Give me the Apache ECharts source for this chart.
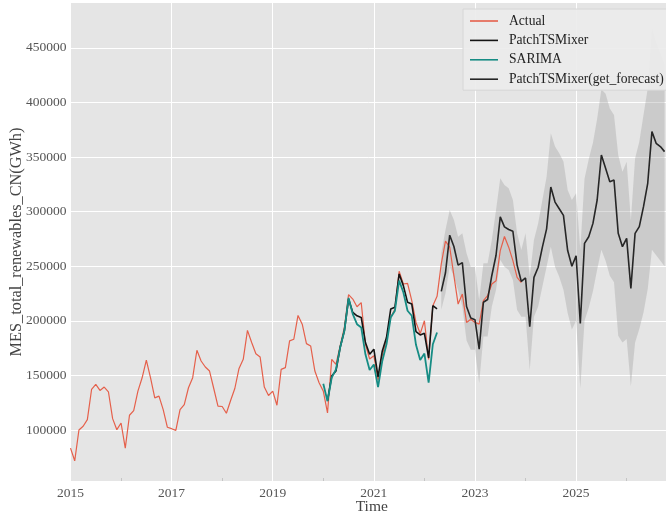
<!DOCTYPE html>
<html>
<head>
<meta charset="utf-8">
<script src="https://cdn.jsdelivr.net/npm/echarts@6/dist/echarts.min.js"></script>
<style>
  html, body { margin: 0; padding: 0; background: #ffffff; }
  #chart { width: 666px; height: 515px; }
</style>
</head>
<body>
<div id="chart"></div>
<script>
// Monthly renewable generation, China (GWh)
const baseYear = 2015;

// Observed values, monthly from 2015-01
const actualStart = '2015-01';
const actual = [
  83400, 71800, 100000, 103400, 109500, 137100, 141700, 136200, 139300, 135000, 110400, 100300,
  106400, 83400, 113500, 117800, 135600, 147800, 164000, 147800, 129400, 131000, 118700, 102500,
  101200, 99700, 118700, 123300, 138700, 147900, 173000, 163200, 157700, 154000, 138000, 121800,
  121500, 115300, 127000, 138000, 156400, 164700, 191200, 180100, 169900, 166900, 139300, 131600,
  135600, 122700, 155500, 157100, 181600, 183100, 204900, 196900, 179100, 177000, 154000, 143300,
  135600, 115700, 164700, 160100, 177000, 193900, 223900, 219900, 212900, 216600, 178500, 165000,
  168000, 145600, 167800, 183100, 203000, 210700, 245400, 233700, 234300, 218400, 198500, 188300,
  200000, 164700, 213800, 222400, 252100, 273000, 267500, 241400, 215300, 224500, 198500, 201500,
  198500, 197000, 218400, 223000, 233700, 236700, 264300, 277200, 267400, 255100, 239800, 235000
];

// PatchTSMixer test-period predictions, monthly from 2020-02
const patchStart = '2020-02';
const patchTSMixer = [
  127000, 149400, 154000, 175500, 190800, 219900, 207700, 204600, 203100, 180100, 169300,
  174000, 148700, 172400, 184700, 210700, 212300, 242900, 232200, 216900, 215300, 190000, 187000,
  188500, 166000, 213800, 211000
];

// SARIMA predictions, monthly from 2020-01
const sarimaStart = '2020-01';
const sarima = [
  142300, 126400, 147900, 155500, 175500, 190800, 220900, 206100, 196900, 193900, 169300, 155000,
  160000, 139300, 163200, 178500, 203000, 209200, 236800, 226100, 209200, 204600, 178000, 164000,
  170000, 143300, 178500, 189300
];

// PatchTSMixer forecast with interval bounds, monthly from 2022-05
const forecastStart = '2022-05';
const forecast = [
  227000, 244000, 278400, 268000, 251000, 253300, 213100, 202500,
  201000, 174000, 217000, 219500, 241500, 260000, 295200, 286000, 283600, 282000, 251000, 236000,
  239200, 194500, 239800, 249000, 267400, 284200, 322500, 308700, 302600, 296500, 264300, 250000,
  259500, 197500, 270900, 277000, 289200, 310600, 351800, 339600, 327400, 328900, 280100, 267900,
  275500, 229700, 280100, 286200, 304500, 325900, 373200, 362500, 359500, 354900
];
const forecastLower = [
  210000, 225300, 250000, 240000, 228000, 213100, 182000, 173400,
  173400, 142900, 185600, 185600, 213100, 228400, 255800, 249600, 246600, 237400, 209900, 203800,
  203800, 155000, 203800, 213100, 231400, 249600, 267900, 249600, 240400, 228400, 207100, 192000,
  200000, 138000, 200000, 212000, 227000, 247000, 265000, 255000, 241300, 235200, 186300, 180200,
  183300, 140000, 180200, 192400, 207600, 229000, 265000, 260000, 255000, 250000
];
const forecastUpper = [
  262000, 283100, 301500, 292300, 277000, 280100, 261800, 249600,
  249600, 219100, 252700, 252700, 274000, 301500, 330500, 324400, 321300, 310600, 280100, 264800,
  280100, 240400, 274000, 289300, 310600, 332000, 371700, 359500, 353400, 345800, 319800, 310600,
  316700, 265000, 330000, 348000, 363000, 385000, 412000, 408000, 394500, 388400, 351800, 336500,
  345700, 292000, 348700, 364000, 388400, 412800, 468000, 455000, 445000, 435000
];

// Axis settings
const xTickYears = [2015, 2017, 2019, 2021, 2023, 2025];
const yTicks = [100000, 150000, 200000, 250000, 300000, 350000, 400000, 450000];
const yMin = 53300, yMax = 491000;
const xEnd = 143 / 12; // last month shown: 2026-12

// Convert "YYYY-MM" plus a month offset into years since baseYear
function monthX(start, i) {
  const [y, m] = start.split('-').map(Number);
  return (y - baseYear) + (m - 1 + i) / 12;
}
function toPairs(start, values) {
  return values.map((v, i) => [monthX(start, i), v]);
}

const serif = 'Liberation Serif, "Times New Roman", DejaVu Serif, serif';

const chart = echarts.init(document.getElementById('chart'), null, { renderer: 'canvas' });

// Interval rows: [x, lower, upper]
const bandRows = forecast.map((_, i) => [monthX(forecastStart, i), forecastLower[i], forecastUpper[i]]);

// Draws the whole interval as one filled polygon (upper edge, then lower edge back)
function renderBand(params, api) {
  if (params.dataIndex !== 0) return null;
  const pts = [];
  for (let i = 0; i < bandRows.length; i++) pts.push(api.coord([bandRows[i][0], bandRows[i][2]]));
  for (let i = bandRows.length - 1; i >= 0; i--) pts.push(api.coord([bandRows[i][0], bandRows[i][1]]));
  return {
    type: 'polygon',
    silent: true,
    shape: { points: pts },
    style: { fill: 'rgba(150,150,150,0.32)' }
  };
}

chart.setOption({
  animation: false,
  backgroundColor: '#ffffff',
  grid: {
    left: 70.5, right: -7, top: 3, bottom: 34,
    outerBoundsMode: 'none',
    containLabel: false,
    show: true, backgroundColor: '#E5E5E5', borderWidth: 0
  },
  legend: {
    data: ['Actual', 'PatchTSMixer', 'SARIMA', 'PatchTSMixer(get_forecast)'],
    orient: 'vertical',
    left: 463, top: 9,
    icon: 'rect',
    itemWidth: 28, itemHeight: 1.6,
    itemGap: 3.4,
    padding: [4, 12, 3, 7],
    backgroundColor: 'rgba(236,236,236,0.92)',
    borderColor: '#d6d6d6', borderWidth: 1,
    textStyle: { fontFamily: serif, fontSize: 13.6, color: '#222', lineHeight: 16, padding: [0, 0, 0, 6] }
  },
  xAxis: {
    type: 'value',
    min: 0, max: xEnd, interval: 2,
    name: 'Time', nameLocation: 'middle', nameGap: 18, nameMoveOverlap: false,
    nameTextStyle: { fontFamily: serif, fontSize: 15.5, color: '#444' },
    axisLine: { show: false },
    axisTick: { show: false, inside: true },
    minorTick: { show: true, splitNumber: 2, length: 3, lineStyle: { color: '#c4c4c4', width: 1 } },
    axisLabel: {
      fontFamily: serif, fontSize: 13.5, color: '#555', margin: 5,
      showMaxLabel: false,
      formatter: v => {
        const yr = Math.round(v) + baseYear;
        return (Math.abs(v - Math.round(v)) < 1e-6 && xTickYears.includes(yr)) ? String(yr) : '';
      }
    },
    splitLine: { show: true, showMaxLine: false, lineStyle: { color: '#ffffff', width: 1 } }
  },
  yAxis: {
    type: 'value',
    min: yMin, max: yMax, splitNumber: 9,
    name: 'MES_total_renewables_CN(GWh)', nameLocation: 'middle', nameGap: 46, nameRotate: 90,
    nameMoveOverlap: false,
    nameTextStyle: { fontFamily: serif, fontSize: 16.3, color: '#444' },
    axisLine: { show: false },
    axisTick: { show: false },
    axisLabel: {
      fontFamily: serif, fontSize: 13.5, color: '#555', margin: 4,
      showMinLabel: false, showMaxLabel: false,
      formatter: v => yTicks.includes(Math.round(v)) ? String(Math.round(v)) : ''
    },
    splitLine: { show: true, showMinLine: false, showMaxLine: false, lineStyle: { color: '#ffffff', width: 1 } }
  },
  series: [
    {
      name: 'interval', type: 'custom', data: bandRows,
      encode: { x: 0, y: [1, 2] },
      renderItem: renderBand, silent: true, clip: true, z: 1
    },
    {
      name: 'Actual', type: 'line', data: toPairs(actualStart, actual),
      symbol: 'none', color: '#e5604b', lineStyle: { width: 1.2 }, z: 3
    },
    {
      name: 'PatchTSMixer', type: 'line', data: toPairs(patchStart, patchTSMixer),
      symbol: 'none', color: '#141414', lineStyle: { width: 1.6 }, z: 4
    },
    {
      name: 'SARIMA', type: 'line', data: toPairs(sarimaStart, sarima),
      symbol: 'none', color: '#168c84', lineStyle: { width: 1.8 }, z: 5
    },
    {
      name: 'PatchTSMixer(get_forecast)', type: 'line', data: toPairs(forecastStart, forecast),
      symbol: 'none', color: '#262626', lineStyle: { width: 1.6 }, z: 4
    }
  ]
});
</script>
</body>
</html>
